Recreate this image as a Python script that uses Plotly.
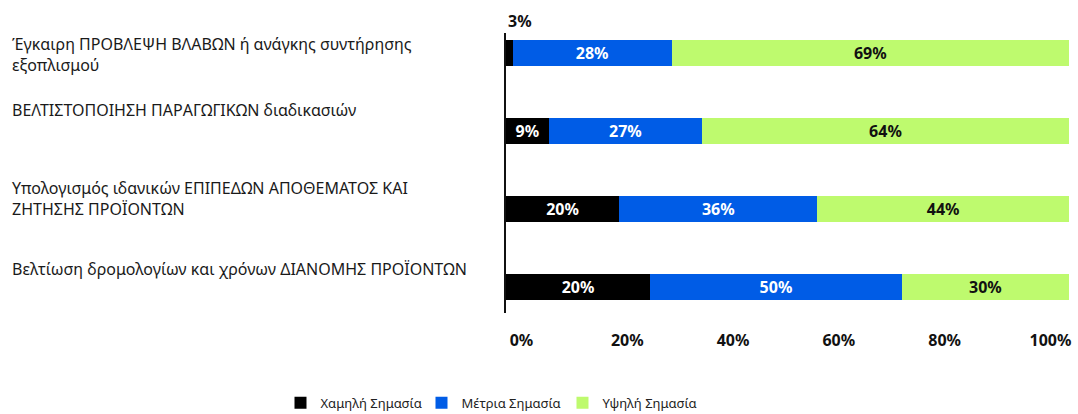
import plotly.graph_objects as go

categories = [
    "Έγκαιρη ΠΡΟΒΛΕΨΗ ΒΛΑΒΩΝ ή ανάγκης συντήρησης<br>εξοπλισμού",
    "ΒΕΛΤΙΣΤΟΠΟΙΗΣΗ ΠΑΡΑΓΩΓΙΚΩΝ διαδικασιών",
    "Υπολογισμός ιδανικών ΕΠΙΠΕΔΩΝ ΑΠΟΘΕΜΑΤΟΣ ΚΑΙ<br>ΖΗΤΗΣΗΣ ΠΡΟΪΟΝΤΩΝ",
    "Βελτίωση δρομολογίων και χρόνων ΔΙΑΝΟΜΗΣ ΠΡΟΪΟΝΤΩΝ",
]
series_names = ["Χαμηλή Σημασία", "Μέτρια Σημασία", "Υψηλή Σημασία"]

# bar lengths as drawn in the picture (percent of axis)
low_values = [1.2, 7.6, 20.1, 25.6]
mid_values = [28.2, 27.2, 35.2, 44.7]
high_values = [70.6, 65.2, 44.7, 29.7]

# labels printed on the segments
low_labels = ["3%", "9%", "20%", "20%"]
mid_labels = ["28%", "27%", "36%", "50%"]
high_labels = ["69%", "64%", "44%", "30%"]

tick_values = [0, 20, 40, 60, 80, 100]
tick_labels = ["0%", "20%", "40%", "60%", "80%", "100%"]

colors = ["#000000", "#005CE6", "#BEFA6E"]
text_colors = ["#FFFFFF", "#FFFFFF", "#111111"]
FONT = "Noto Sans"

fig = go.Figure()
for name, vals, labs, col, tcol in zip(
    series_names,
    [low_values, mid_values, high_values],
    [low_labels, mid_labels, high_labels],
    colors, text_colors,
):
    tpos = ["inside"] * len(vals)
    if name == series_names[0]:
        tpos[0] = "none"
    fig.add_trace(go.Bar(
        y=categories, x=vals, name=name, orientation="h",
        marker=dict(color=col, line=dict(width=0)),
        width=0.333,
        text=labs, textposition=tpos, insidetextanchor="middle",
        textangle=0, constraintext="none",
        textfont=dict(family=FONT, size=16, color=tcol, weight=700),
        hoverinfo="skip",
    ))

# helper trace to carry the tick-label axis
fig.add_trace(go.Scatter(
    x=[tick_values[0], tick_values[-1]], y=[categories[0], categories[0]],
    xaxis="x2", yaxis="y", mode="markers",
    marker=dict(opacity=0), showlegend=False, hoverinfo="skip",
))

# small segment label placed above bar
fig.add_annotation(
    x=0, y=categories[0], xref="x", yref="y", text=low_labels[0],
    showarrow=False, xanchor="left", yanchor="middle", yshift=32,
    font=dict(family=FONT, size=16, color="#111111", weight=700),
)

label_shifts = [-2, 21, 11, 18]
for cat, ys in zip(categories, label_shifts):
    fig.add_annotation(
        x=0, y=cat, xref="x", yref="y", text=cat, xshift=-496,
        showarrow=False, xanchor="left", yanchor="middle", align="left",
        yshift=ys, font=dict(family=FONT, size=16, color="#1a1a1a"),
    )

fig.update_layout(
    barmode="stack",
    width=1078, height=414, autosize=False,
    margin=dict(l=506, r=9, t=33, b=101, autoexpand=False),
    paper_bgcolor="white", plot_bgcolor="rgba(0,0,0,0)",
    font=dict(family=FONT, color="#111111"),
    xaxis=dict(range=[0, 100], showticklabels=False, showgrid=False,
               zeroline=False, showline=False, ticks=""),
    xaxis2=dict(domain=[0.0275, 0.967], range=[0, 100], anchor="y",
                tickmode="array", tickvals=tick_values, ticktext=tick_labels,
                tickfont=dict(family=FONT, size=16, color="#111111", weight=700),
                ticks="outside", ticklen=13, tickcolor="rgba(0,0,0,0)",
                showgrid=False, zeroline=False, showline=False),
    yaxis=dict(categoryorder="array", categoryarray=categories,
               range=[3.333, -0.256], showticklabels=False, showgrid=False,
               zeroline=False, showline=True, linecolor="#111111", linewidth=2,
               ticks=""),
    legend=dict(orientation="h", xref="container", yref="container",
                x=0.4564, xanchor="center", y=0.027, yanchor="middle",
                traceorder="normal",
                font=dict(family=FONT, size=13, color="#222222"),
                entrywidth=96, entrywidthmode="pixels"),
    showlegend=True,
)

fig.write_html(
    "out.html",
    config={"responsive": False, "displayModeBar": False},
    post_script="document.body.style.margin='0';document.body.style.overflow='hidden';",
)
